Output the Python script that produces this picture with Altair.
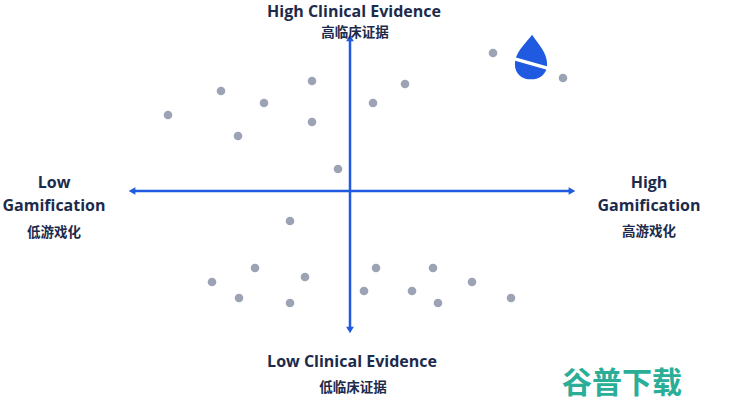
import altair as alt
import pandas as pd

# Data: gamification (x) vs clinical evidence (y), centred on the axes crossing
gamification = [-18.2, -12.9, -8.6, -11.2, -3.8, -3.8, -1.2, 2.3, 5.5, 14.3, 21.3,
                -6.0, -9.5, -13.8, -4.5, -11.1, -6.0, 2.6, 1.4, 8.3, 6.2, 12.2, 8.8, 16.1]
evidence = [7.6, 10.0, 8.8, 5.5, 11.0, 6.9, 2.2, 8.8, 10.7, 13.8, 11.3,
            -3.0, -7.7, -9.1, -8.6, -10.7, -11.2, -7.7, -10.0, -7.7, -10.0, -9.1, -11.2, -10.7]

# Axis extents (in data units)
h_axis_x = [-21.8, 22.2]
v_axis_y = [-13.9, 15.3]

# Labels
label_text = ["High Clinical Evidence", "高临床证据", "Low Clinical Evidence", "低临床证据",
              "Low", "Gamification", "低游戏化", "High", "Gamification", "高游戏化"]
label_x = [0.4, 0.5, 0.2, 0.3, -29.6, -29.6, -29.6, 29.9, 29.9, 29.9]
label_y = [17.95, 15.8, -17.1, -19.7, 0.8, -1.5, -4.2, 0.8, -1.5, -4.1]
label_kind = ["en", "zh", "en", "zh", "en", "en", "zh", "en", "en", "zh"]

X_DOM = [-35.0, 39.0]
Y_DOM = [-21.5, 19.1]
BLUE = "#1f5ae0"
NAVY = "#1c2b4b"

xs = alt.Scale(domain=X_DOM, nice=False, zero=False)
ys = alt.Scale(domain=Y_DOM, nice=False, zero=False)

pts = pd.DataFrame({"g": gamification, "e": evidence})
hline = pd.DataFrame({"x": [h_axis_x[0]], "x2": [h_axis_x[1]], "y": [0.0]})
vline = pd.DataFrame({"y": [v_axis_y[0]], "y2": [v_axis_y[1]], "x": [0.0]})
heads = pd.DataFrame({
    "x": [h_axis_x[0], h_axis_x[1], 0.0, 0.0],
    "y": [0.0, 0.0, v_axis_y[1], v_axis_y[0]],
    "shape": ["triangle-left", "triangle-right", "triangle-up", "triangle-down"],
})
labels = pd.DataFrame({"t": label_text, "x": label_x, "y": label_y, "k": label_kind})

h = alt.Chart(hline).mark_rule(color=BLUE, strokeWidth=2.5).encode(
    x=alt.X("x:Q", scale=xs, axis=None), x2="x2:Q", y=alt.Y("y:Q", scale=ys, axis=None))
v = alt.Chart(vline).mark_rule(color=BLUE, strokeWidth=2.5).encode(
    y=alt.Y("y:Q", scale=ys, axis=None), y2="y2:Q", x=alt.X("x:Q", scale=xs, axis=None))
arrows = alt.Chart(heads).mark_point(filled=True, color=BLUE, size=60, opacity=1).encode(
    x=alt.X("x:Q", scale=xs, axis=None), y=alt.Y("y:Q", scale=ys, axis=None),
    shape=alt.Shape("shape:N", scale=None))

dots = alt.Chart(pts).mark_circle(color="#9ca3b5", size=75, opacity=1).encode(
    x=alt.X("g:Q", scale=xs, axis=None), y=alt.Y("e:Q", scale=ys, axis=None))

en = alt.Chart(labels).transform_filter("datum.k == 'en'").mark_text(
    font="Open Sans", fontWeight="bold", fontSize=16, color=NAVY, align="center", baseline="middle"
).encode(x=alt.X("x:Q", scale=xs, axis=None), y=alt.Y("y:Q", scale=ys, axis=None), text="t:N")
zh = alt.Chart(labels).transform_filter("datum.k == 'zh'").mark_text(
    font="Noto Sans CJK SC", fontWeight="bold", fontSize=13.5, color=NAVY, align="center", baseline="middle"
).encode(x=alt.X("x:Q", scale=xs, axis=None), y=alt.Y("y:Q", scale=ys, axis=None), text="t:N")

# Logo (drop) and watermark
logo = pd.DataFrame({"x": [18.1], "y": [13.4]})
drop_path = "M0.05,-1 C0.35,-0.55 0.72,-0.2 0.72,0.32 C0.72,0.75 0.4,1 0,1 C-0.4,1 -0.72,0.75 -0.72,0.32 C-0.72,-0.2 -0.3,-0.55 0.05,-1 Z"
stripe_path = "M-0.75,0.0 L0.75,0.42 L0.75,0.58 L-0.75,0.16 Z"
drop = alt.Chart(logo).mark_point(shape=drop_path, filled=True, color=BLUE, size=2000, opacity=1).encode(
    x=alt.X("x:Q", scale=xs, axis=None), y=alt.Y("y:Q", scale=ys, axis=None))
stripe = alt.Chart(logo).mark_point(shape=stripe_path, filled=True, color="white", size=2000, opacity=1).encode(
    x=alt.X("x:Q", scale=xs, axis=None), y=alt.Y("y:Q", scale=ys, axis=None))

wm = pd.DataFrame({"t": ["谷普下载"], "x": [27.2], "y": [-19.3]})
water = alt.Chart(wm).mark_text(font="Noto Sans CJK SC", fontWeight="bold", fontSize=30,
                                color="#2aae97", align="center", baseline="middle").encode(
    x=alt.X("x:Q", scale=xs, axis=None), y=alt.Y("y:Q", scale=ys, axis=None), text="t:N")

chart = alt.layer(h, v, arrows, dots, en, zh, drop, stripe, water).properties(
    width=740, height=406, padding=0, autosize=alt.AutoSizeParams(type="none"),
    background="white"
).configure_view(stroke=None)

chart.save("out.html", embed_options={"renderer": "svg", "actions": False})
